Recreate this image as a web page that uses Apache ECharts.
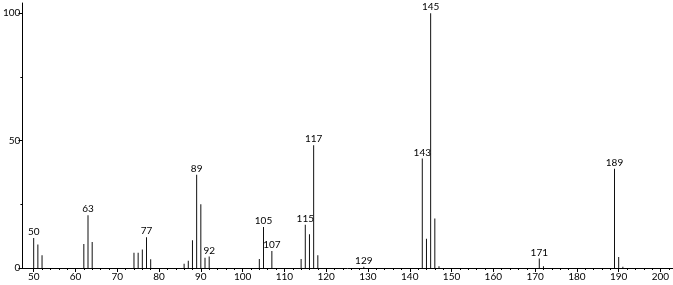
<!DOCTYPE html>
<html>
<head>
<meta charset="utf-8">
<script src="https://cdn.jsdelivr.net/npm/echarts@6/dist/echarts.min.js"></script>
<style>
html,body{margin:0;padding:0;background:#fff;}
#c{width:673px;height:285px;}
</style>
</head>
<body>
<div id="c"></div>
<script>
// m/z values and relative intensities
var mz =        [50, 51, 52, 62, 63, 64, 74, 75, 76, 77, 78, 86, 87, 88, 89, 90, 91, 92, 104, 105, 107, 114, 115, 116, 117, 118, 129, 143, 144, 145, 146, 147, 171, 172, 189, 190, 191];
var intensity = [11.8, 9.2, 5.0, 9.4, 20.7, 10.2, 6.0, 6.0, 7.3, 12.1, 3.4, 1.7, 2.8, 10.9, 36.6, 25.0, 4.0, 4.5, 3.5, 16.1, 6.7, 3.5, 17.0, 13.2, 48.2, 5.0, 0.5, 43.0, 11.5, 100, 19.4, 0.7, 3.7, 0.7, 39.0, 4.3, 0.5];
var labeledPeaks = [50, 63, 77, 89, 92, 105, 107, 115, 117, 129, 143, 145, 171, 189];
var xTickLabels = [50, 60, 70, 80, 90, 100, 110, 120, 130, 140, 150, 160, 170, 180, 190, 200];
var yTickLabels = [0, 50, 100];
var yMinorTicks = [25, 75];

var xMinorTicks = [];
for (var i = 0; i < xTickLabels.length; i++) {
  for (var k = 2; k < 10; k += 2) xMinorTicks.push(xTickLabels[i] + k);
}

var FONT = 'Lato';
var data = mz.map(function (m, i) {
  var item = { value: [m, intensity[i]] };
  if (labeledPeaks.indexOf(m) >= 0) {
    item.label = { show: true };
  }
  return item;
});

var chart = echarts.init(document.getElementById('c'), null, { renderer: 'canvas' });
var XMIN = 47.3, XMAX = 203, YMAX = 104;
chart.setOption({
  animation: false,
  grid: { left: 21, right: 0, top: 3, bottom: 17, containLabel: false },
  xAxis: [{
    type: 'value', min: XMIN, max: XMAX,
    axisLine: { show: true, onZero: false, lineStyle: { color: '#000', width: 1 } },
    axisTick: { show: true, length: 4, customValues: xTickLabels, lineStyle: { color: '#000' } },
    axisLabel: { show: true, customValues: xTickLabels, margin: 4, color: '#000', fontFamily: FONT, fontSize: 10 },
    splitLine: { show: false }
  }, {
    type: 'value', min: XMIN, max: XMAX, position: 'bottom',
    axisLine: { show: true, onZero: false, lineStyle: { color: 'rgba(0,0,0,0)' } },
    axisTick: { show: true, length: 2, customValues: xMinorTicks, lineStyle: { color: '#000' } },
    axisLabel: { show: false },
    splitLine: { show: false }
  }],
  yAxis: [{
    type: 'value', min: 0, max: YMAX,
    axisLine: { show: true, onZero: false, lineStyle: { color: '#000', width: 1 } },
    axisTick: { show: true, length: 4, customValues: yTickLabels, lineStyle: { color: '#000' } },
    axisLabel: { show: true, customValues: yTickLabels, margin: 2, color: '#000', fontFamily: FONT, fontSize: 10 },
    splitLine: { show: false }
  }, {
    type: 'value', min: 0, max: YMAX, position: 'left',
    axisLine: { show: true, onZero: false, lineStyle: { color: 'rgba(0,0,0,0)' } },
    axisTick: { show: true, length: 2, customValues: yMinorTicks, lineStyle: { color: '#000' } },
    axisLabel: { show: false },
    splitLine: { show: false }
  }],
  series: [{
    type: 'bar',
    xAxisIndex: 0, yAxisIndex: 0,
    barWidth: 1,
    itemStyle: { color: '#111' },
    label: {
      show: false, position: 'top', distance: 1, color: '#000', fontFamily: FONT, fontSize: 10,
      formatter: function (p) { return String(p.value[0]); }
    },
    data: data
  }]
});
</script>
</body>
</html>
